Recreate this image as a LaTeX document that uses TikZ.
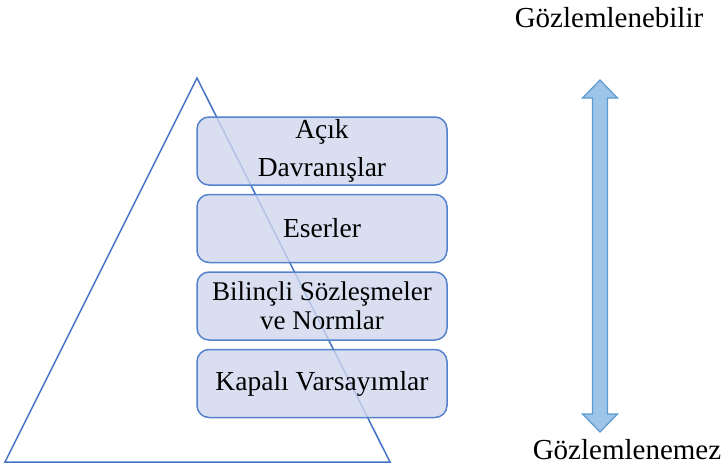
\documentclass[tikz,border=0pt]{standalone}
\usepackage{fontspec}
\setmainfont{Liberation Serif}
\usetikzlibrary{positioning,calc}
\definecolor{trline}{RGB}{68,114,196}
\definecolor{boxfill}{RGB}{208,215,238}
\definecolor{boxline}{RGB}{84,130,204}
\definecolor{arrfill}{RGB}{157,195,230}
\definecolor{arrline}{RGB}{91,155,213}
\tikzset{
  layer/.style={draw=boxline,line width=1.5pt,fill=boxfill,fill opacity=0.8,text opacity=1,
    rounded corners=12pt,minimum width=250pt,minimum height=68pt,inner sep=0pt,
    align=center,font=\fontsize{27.5}{38}\selectfont},
  lbl/.style={font=\fontsize{29}{32}\selectfont,inner sep=0pt}
}
\begin{document}
\begin{tikzpicture}[x=1pt,y=-1pt]
  \useasboundingbox (0,0) rectangle (726,475);
  %% ucgen
  \coordinate (t1) at (197,78);
  \coordinate (t2) at (5,462);
  \coordinate (t3) at (390,462);
  \draw[trline,line width=1.5pt,line join=miter] (t1) -- (t2) -- (t3) -- cycle;
  %% katmanlar
  \node[layer] (b1) at (322,151) {Açık\\Davranışlar};
  \node[layer,below=8pt of b1] (b2) {Eserler};
  \node[layer,below=8pt of b2,font=\fontsize{27}{29}\selectfont] (b3) {Bilinçli Sözleşmeler\\ ve Normlar};
  \node[layer,below=8pt of b3] (b4) {Kapalı Varsayımlar};
  %% ok
  \node[lbl] (g1) at (609,18) {Gözlemlenebilir};
  \node[lbl] (g2) at (627,450) {Gözlemlenemez};
  \coordinate (a1) at (600,80);
  \coordinate (a2) at (600,432);
  \draw[arrline,line width=1.2pt,fill=arrfill,line join=miter]
    (a1) -- ++(17.5,18) -- ++(-10,0) -- ($(a2)+(7.5,-18)$) -- ++(10,0) -- (a2)
    -- ++(-17.5,-18) -- ++(10,0) -- ($(a1)+(-7.5,18)$) -- ++(-10,0) -- cycle;
\end{tikzpicture}
\end{document}
